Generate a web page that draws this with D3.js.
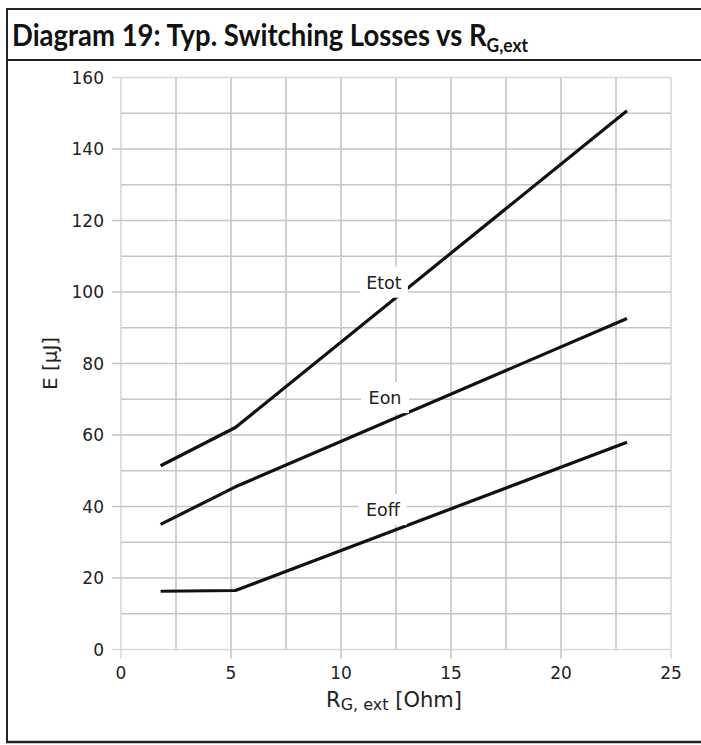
<!DOCTYPE html>
<html><head><meta charset="utf-8">
<script src="https://cdn.jsdelivr.net/npm/d3@7"></script>
<style>body{margin:0;background:#fff}svg{display:block}</style>
</head><body>
<svg id="c" width="701" height="745"></svg>
<script>
// ---- data ----
const rg = [1.8, 5.2, 23];
const eoff = [16.3, 16.5, 58.0];
const eon = [35.0, 45.5, 92.6];
const etot = [51.4, 62.1, 150.7];
const seriesNames = ["Etot", "Eon", "Eoff"];
const labelX = [11.95, 12.0, 11.9];
const labelY = [102.6, 70.3, 39.0];
const xTicks = [0, 5, 10, 15, 20, 25];
const yTicks = [0, 20, 40, 60, 80, 100, 120, 140, 160];
const xGrid = d3.range(0, 25.01, 2.5);
const yGrid = d3.range(0, 160.01, 10);

const FONT = "'DejaVu Sans', sans-serif";
const svg = d3.select("#c");
const W = 701, H = 745;
const frame = "#222";

// frame
svg.append("line").attr("x1",6).attr("x2",W).attr("y1",9).attr("y2",9).attr("stroke",frame).attr("stroke-width",2);
svg.append("line").attr("x1",7).attr("x2",7).attr("y1",8).attr("y2",743).attr("stroke",frame).attr("stroke-width",2);
svg.append("line").attr("x1",6).attr("x2",W).attr("y1",60).attr("y2",60).attr("stroke",frame).attr("stroke-width",2);
svg.append("line").attr("x1",6).attr("x2",W).attr("y1",742).attr("y2",742).attr("stroke",frame).attr("stroke-width",2.5);

// title
const title = svg.append("text").attr("x",0).attr("y",0)
  .style("font-family","Lato, 'Open Sans', sans-serif").style("font-weight","700")
  .style("font-size","30px").attr("fill","#111");
title.append("tspan").text("Diagram 19: Typ. Switching Losses vs R");
title.append("tspan").attr("dy",6).style("font-size","19px").text("G,ext");
const tl = title.node().getComputedTextLength();
title.attr("transform",`translate(12,46) scale(${516/tl},1)`);

// scales
const x = d3.scaleLinear().domain([0,25]).range([121,671]);
const y = d3.scaleLinear().domain([0,160]).range([649.5,77.5]);

// grid
const g = svg.append("g");
g.selectAll(".vg").data(xGrid).join("line")
  .attr("x1",d=>x(d)).attr("x2",d=>x(d))
  .attr("y1",y(160)).attr("y2",d=> (d%5===0)? y(0)+9 : y(0))
  .attr("stroke",(d)=> (d===0||d===25)?"#d8d8d8":"#c6c6c6").attr("stroke-width",1.6);
g.selectAll(".hg").data(yGrid).join("line")
  .attr("y1",d=>y(d)).attr("y2",d=>y(d))
  .attr("x1",d=> (d%20===0)? x(0)-9 : x(0)).attr("x2",x(25))
  .attr("stroke",(d)=> (d===0||d===160)?"#d8d8d8":"#c6c6c6").attr("stroke-width",1.6);

// tick labels from scales
svg.append("g").selectAll("text").data(xTicks).join("text")
  .attr("x",d=>x(d)).attr("y",679).attr("text-anchor","middle")
  .style("font-family",FONT).style("font-size","17px").attr("fill","#222")
  .text(d=>d);
svg.append("g").selectAll("text").data(yTicks).join("text")
  .attr("x",104).attr("y",d=>y(d)).attr("dy","0.36em").attr("text-anchor","end")
  .style("font-family",FONT).style("font-size","17px").attr("fill","#222")
  .text(d=>d);

// axis titles
const xl = svg.append("text").attr("x",394).attr("y",707).attr("text-anchor","middle")
  .style("font-family",FONT).style("font-size","21px").attr("fill","#222");
xl.append("tspan").text("R");
xl.append("tspan").attr("dy",3).style("font-size","16px").text("G, ext");
xl.append("tspan").attr("dy",-3).text(" [Ohm]");
svg.append("text").attr("transform","translate(57,363.5) rotate(-90)").attr("text-anchor","middle")
  .style("font-family",FONT).style("font-size","20px").attr("fill","#222")
  .text("E [µJ]");

// lines
const series = [etot, eon, eoff];
const line = d3.line().x((d,i)=>x(rg[i])).y(d=>y(d));
svg.selectAll(".ser").data(series).join("path")
  .attr("d",d=>line(d)).attr("fill","none").attr("stroke","#111").attr("stroke-width",3.2)
  .attr("stroke-linejoin","round");

// labels with white boxes
const lab = svg.selectAll(".lab").data(seriesNames).join("g")
  .attr("transform",(d,i)=>`translate(${x(labelX[i])},${y(labelY[i])})`);
lab.append("rect").attr("x",-24).attr("y",-16).attr("width",48).attr("height",31).attr("fill","#fff");
lab.append("text").attr("text-anchor","middle").attr("dy","0.36em")
  .style("font-family",FONT).style("font-size","17.5px").attr("fill","#222")
  .text(d=>d);
</script>
</body></html>
